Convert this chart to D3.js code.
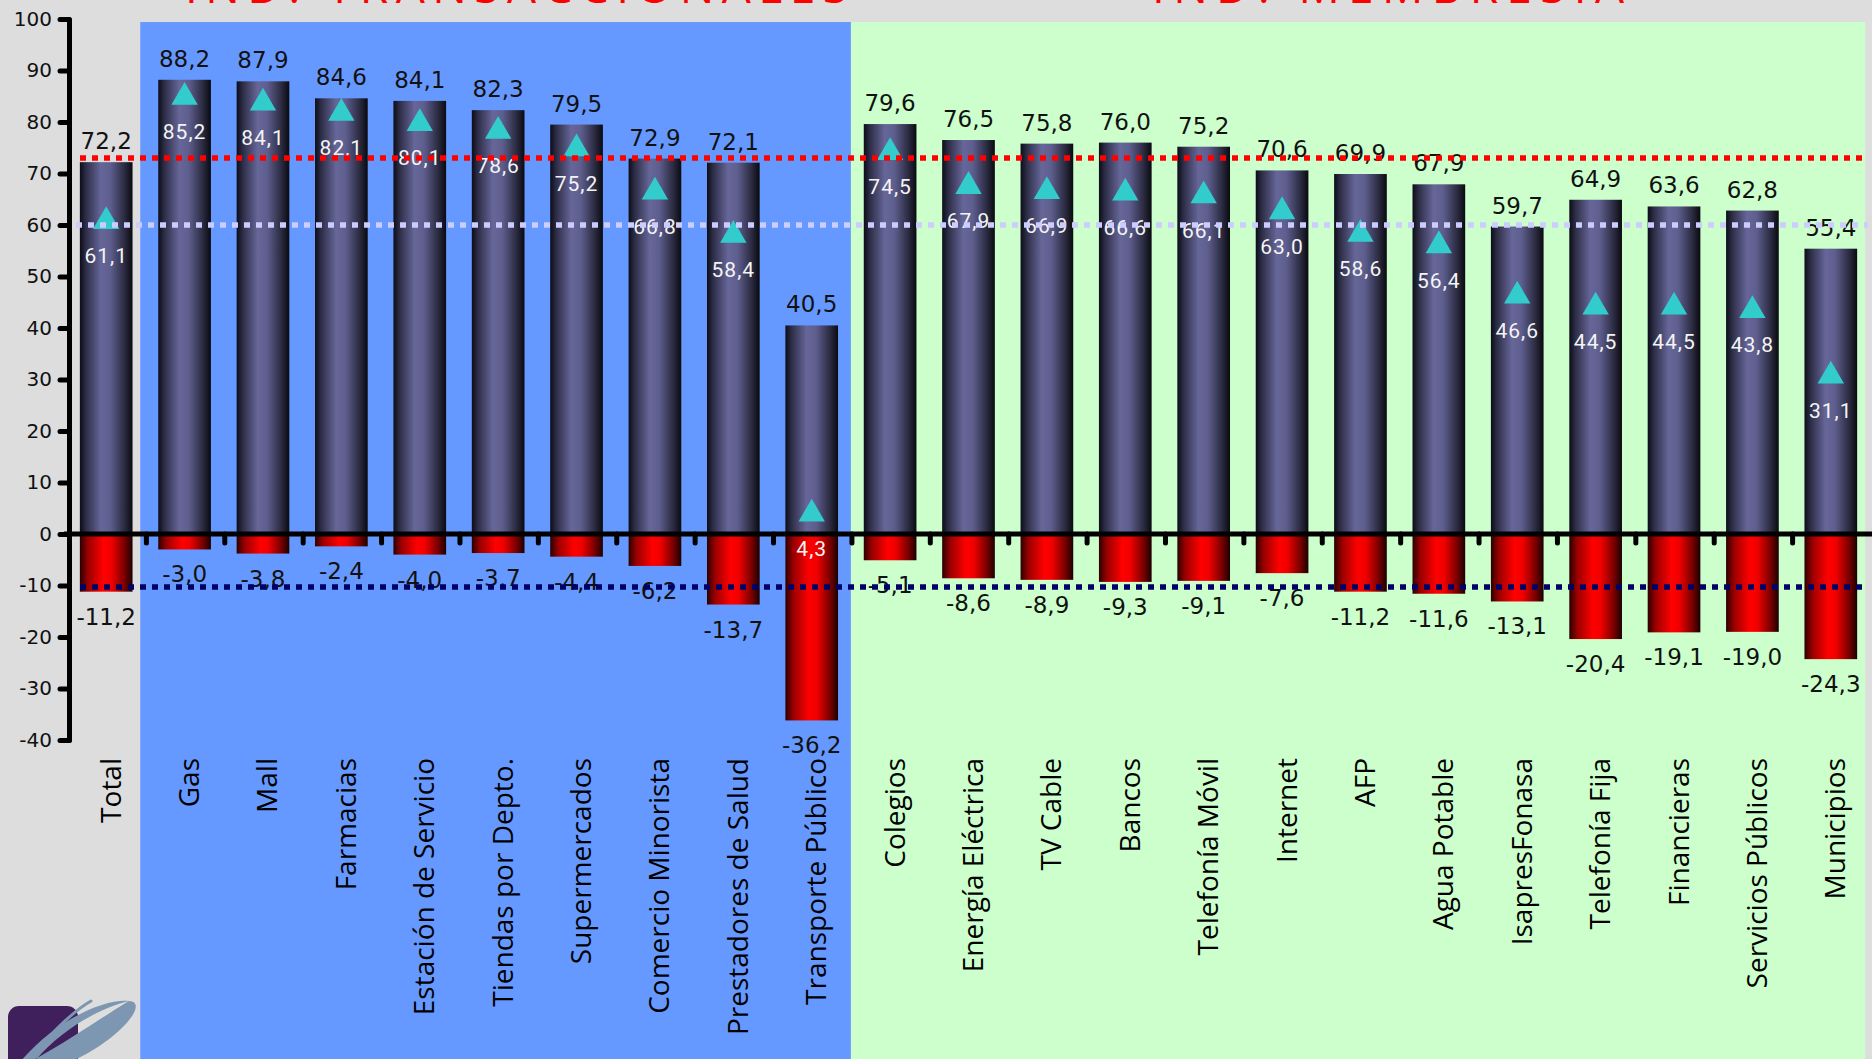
<!DOCTYPE html>
<html>
<head>
<meta charset="utf-8">
<script src="https://cdn.jsdelivr.net/npm/d3@7"></script>
<style>
  html, body { margin: 0; padding: 0; background: #dddddd; overflow: hidden; }
  svg { display: block; }
</style>
</head>
<body>
<svg id="chart" width="1872" height="1059"></svg>
<script>
// Satisfaction by industry: share satisfied, share dissatisfied and net score
const categories = [
  "Total", "Gas", "Mall", "Farmacias", "Estación de Servicio", "Tiendas por Depto.",
  "Supermercados", "Comercio Minorista", "Prestadores de Salud", "Transporte Público",
  "Colegios", "Energía Eléctrica", "TV Cable", "Bancos", "Telefonía Móvil", "Internet",
  "AFP", "Agua Potable", "IsapresFonasa", "Telefonía Fija", "Financieras",
  "Servicios Públicos", "Municipios"
];
const satisfied = [72.2, 88.2, 87.9, 84.6, 84.1, 82.3, 79.5, 72.9, 72.1, 40.5,
  79.6, 76.5, 75.8, 76.0, 75.2, 70.6, 69.9, 67.9, 59.7, 64.9, 63.6, 62.8, 55.4];
const dissatisfied = [-11.2, -3.0, -3.8, -2.4, -4.0, -3.7, -4.4, -6.2, -13.7, -36.2,
  -5.1, -8.6, -8.9, -9.3, -9.1, -7.6, -11.2, -11.6, -13.1, -20.4, -19.1, -19.0, -24.3];
const netScore = [61.1, 85.2, 84.1, 82.1, 80.1, 78.6, 75.2, 66.8, 58.4, 4.3,
  74.5, 67.9, 66.9, 66.6, 66.1, 63.0, 58.6, 56.4, 46.6, 44.5, 44.5, 43.8, 31.1];
const yTicks = [-40, -30, -20, -10, 0, 10, 20, 30, 40, 50, 60, 70, 80, 90, 100];
// Reference levels: satisfied average, net average, dissatisfied average
const refSatisfied = 73;
const refNet = 60;
const refDissatisfied = -10.3;
// Industry groups (first and last category of each)
const groups = [
  { name: "IND. TRANSACCIONALES", from: "Gas", to: "Transporte Público", fill: "#6699ff" },
  { name: "IND. MEMBRESÍA", from: "Colegios", to: "Municipios", fill: "#ccffcc" }
];

// Decimal comma and plain hyphen for negatives
const fmt = v => (v < 0 ? "-" : "") + Math.abs(v).toFixed(1).replace(".", ",");

const W = 1872, H = 1059;
const svg = d3.select("#chart");

const x = d3.scaleBand().domain(categories).range([67, 1870])
  .paddingInner(0.328).paddingOuter(0.164);
const y = d3.scaleLinear().domain([-40, 100]).range([740, 19]);
const step = x.step();
const gap = step - x.bandwidth();

// Gradients for the cylinder-like bars
const defs = svg.append("defs");
function hGrad(id, stops) {
  const g = defs.append("linearGradient").attr("id", id)
    .attr("x1", "0%").attr("x2", "100%").attr("y1", "0%").attr("y2", "0%");
  stops.forEach(s => g.append("stop").attr("offset", s[0]).attr("stop-color", s[1]));
}
hGrad("gPos", [["0%", "#0c0c18"], ["12%", "#2e2e48"], ["40%", "#666699"], ["58%", "#5e5e8e"], ["85%", "#2a2a40"], ["100%", "#0a0a10"]]);
hGrad("gNeg", [["0%", "#2a0000"], ["15%", "#990000"], ["45%", "#ff0000"], ["60%", "#f00000"], ["85%", "#770000"], ["100%", "#1a0000"]]);

// Group background panels
const groupX0 = [x("Gas") - 18, x("Colegios") - gap / 2];
const groupX1 = [x("Colegios") - gap / 2, x("Municipios") + x.bandwidth() + 8];
svg.append("g").selectAll("rect").data(groups).join("rect")
  .attr("x", (d, i) => groupX0[i])
  .attr("y", 22)
  .attr("width", (d, i) => groupX1[i] - groupX0[i])
  .attr("height", H - 22)
  .attr("fill", d => d.fill);

// Group titles (run off the top edge)
const titleSpan = [[185, 848], [1152, 1624]];
svg.append("g").selectAll("text").data(groups).join("text")
  .attr("x", (d, i) => titleSpan[i][0])
  .attr("y", 2.5)
  .attr("textLength", (d, i) => titleSpan[i][1] - titleSpan[i][0])
  .attr("lengthAdjust", "spacing")
  .attr("font-family", "'Open Sans', sans-serif")
  .attr("font-size", 46)
  .attr("fill", "#ff0000")
  .text(d => d.name);

// Corner logo
defs.append("clipPath").attr("id", "logoClip")
  .append("rect").attr("x", 0).attr("y", 990).attr("width", groupX0[0]).attr("height", 69);
const lg = svg.append("g").attr("clip-path", "url(#logoClip)");
lg.append("rect").attr("x", 8).attr("y", 1006).attr("width", 70).attr("height", 80)
  .attr("rx", 11).attr("fill", "#3f1f5c");
lg.append("path")
  .attr("fill", "#7d96b2")
  .attr("d", "M 129 1001 C 150 1002, 120 1040, 70 1062 L 30 1062 C 70 1040, 110 1012, 129 1001 Z " +
             "M 129 1001 C 110 998, 60 1015, 20 1062 L 34 1062 C 60 1030, 100 1008, 129 1001 Z");
lg.append("path").attr("fill", "none").attr("stroke", "#7d96b2").attr("stroke-width", 3)
  .attr("stroke-linecap", "round")
  .attr("d", "M 46 1040 C 60 1025, 75 1010, 91 1001");
lg.append("path").attr("fill", "none").attr("stroke", "#7d96b2").attr("stroke-width", 3)
  .attr("stroke-linecap", "round")
  .attr("d", "M 60 1058 C 72 1050, 85 1043, 97 1036");

// Bars
const barsG = svg.append("g");
barsG.selectAll("rect.pos").data(categories).join("rect").attr("class", "pos")
  .attr("x", d => x(d)).attr("width", x.bandwidth())
  .attr("y", (d, i) => y(satisfied[i]))
  .attr("height", (d, i) => y(0) - y(satisfied[i]))
  .attr("fill", "url(#gPos)");
barsG.selectAll("rect.neg").data(categories).join("rect").attr("class", "neg")
  .attr("x", d => x(d)).attr("width", x.bandwidth())
  .attr("y", y(0))
  .attr("height", (d, i) => y(dissatisfied[i]) - y(0))
  .attr("fill", "url(#gNeg)");

// Zero line with category ticks
svg.append("line").attr("x1", 64).attr("x2", W).attr("y1", y(0)).attr("y2", y(0))
  .attr("stroke", "#000").attr("stroke-width", 5);
svg.append("g").selectAll("line").data(categories.slice(1)).join("line")
  .attr("x1", d => x(d) - gap / 2 + 1)
  .attr("x2", d => x(d) - gap / 2 + 1)
  .attr("y1", y(0)).attr("y2", y(0) + 9)
  .attr("stroke", "#000").attr("stroke-width", 5).attr("stroke-linecap", "round");

// Net score markers
const tri = d3.symbol().type(d3.symbolTriangle).size(300);
svg.append("g").selectAll("path").data(categories).join("path")
  .attr("d", tri)
  .attr("transform", (d, i) => `translate(${x(d) + x.bandwidth() / 2},${y(netScore[i]) + 2})`)
  .attr("fill", "#33cccc");

// Value labels
const labels = svg.append("g").attr("text-anchor", "middle");
labels.selectAll("text.top").data(categories).join("text").attr("class", "top")
  .attr("x", d => x(d) + x.bandwidth() / 2)
  .attr("y", (d, i) => y(satisfied[i]) - 13)
  .attr("font-family", "'DejaVu Sans', sans-serif").attr("font-size", 23)
  .attr("fill", "#111")
  .text((d, i) => fmt(satisfied[i]));
labels.selectAll("text.bot").data(categories).join("text").attr("class", "bot")
  .attr("x", d => x(d) + x.bandwidth() / 2)
  .attr("y", (d, i) => y(dissatisfied[i]) + 33)
  .attr("font-family", "'DejaVu Sans', sans-serif").attr("font-size", 23)
  .attr("fill", "#111")
  .text((d, i) => fmt(dissatisfied[i]));
labels.selectAll("text.net").data(categories).join("text").attr("class", "net")
  .attr("x", d => x(d) + x.bandwidth() / 2)
  .attr("y", (d, i) => y(netScore[i]) + 44)
  .attr("font-family", "Roboto, sans-serif").attr("font-size", 21)
  .attr("letter-spacing", 1)
  .attr("fill", "#f4f4f4")
  .text((d, i) => fmt(netScore[i]));

// Reference lines
const refs = [
  { v: refSatisfied, c: "#ff0000", x0: 80 },
  { v: refNet, c: "#ccccff", x0: 76 },
  { v: refDissatisfied, c: "#000066", x0: 80 }
];
svg.append("g").selectAll("line").data(refs).join("line")
  .attr("x1", d => d.x0).attr("x2", 1868)
  .attr("y1", d => y(d.v)).attr("y2", d => y(d.v))
  .attr("stroke", d => d.c).attr("stroke-width", 5.5)
  .attr("stroke-dasharray", "6 6");

// Value axis
const yAxis = svg.append("g").attr("transform", "translate(69,0)")
  .call(d3.axisLeft(y).tickValues(yTicks).tickSizeInner(9).tickSizeOuter(0).tickPadding(8)
    .tickFormat(d => String(d)));
yAxis.select(".domain").attr("stroke", "#000").attr("stroke-width", 5).attr("stroke-linecap", "round");
yAxis.selectAll(".tick line").attr("stroke", "#000").attr("stroke-width", 5).attr("stroke-linecap", "round");
yAxis.selectAll(".tick text").attr("font-family", "'DejaVu Sans', sans-serif")
  .attr("font-size", 20).attr("fill", "#111");

// Category labels
svg.append("g").selectAll("text").data(categories).join("text")
  .attr("transform", d => `translate(${x(d) + x.bandwidth() / 2 + 14.5},758) rotate(-90)`)
  .attr("text-anchor", "end")
  .attr("font-family", "'Open Sans', sans-serif").attr("font-size", 28)
  .attr("fill", "#000")
  .text(d => d);
</script>
</body>
</html>
